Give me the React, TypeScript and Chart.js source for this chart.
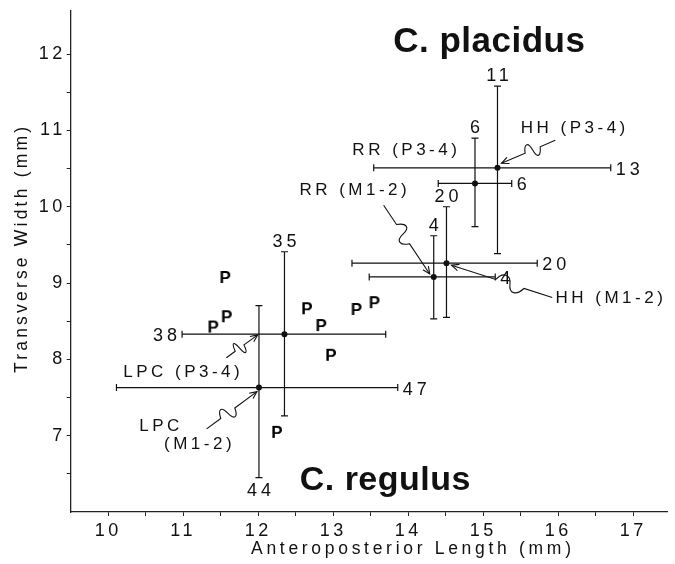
import React, { useEffect, useRef } from 'react';
import { Chart, registerables } from 'chart.js';

Chart.register(...registerables);

// ---------- data ----------
const groupNames = ['HH (P3-4)', 'RR (P3-4)', 'HH (M1-2)', 'RR (M1-2)', 'LPC (P3-4)', 'LPC (M1-2)'];
const meanLength = [15.19, 14.89, 14.51, 14.34, 12.35, 12.01];
const meanWidth = [10.51, 10.305, 9.26, 9.08, 8.33, 7.63];
const lengthMin = [13.54, 14.4, 13.25, 13.48, 10.985, 10.11];
const lengthMax = [16.7, 15.38, 15.72, 15.16, 13.7, 13.86];
const widthMin = [9.385, 9.74, 8.55, 8.53, 7.26, 6.45];
const widthMax = [11.58, 10.9, 10.0, 9.62, 9.41, 8.705];
const lengthN = ['13', '6', '20', '4', '38', '47'];
const widthN = ['11', '6', '20', '4', '35', '44'];

const specimenLength = [11.56, 11.4, 11.58, 12.65, 12.84, 13.31, 13.55, 12.97, 12.25];
const specimenWidth = [9.08, 8.43, 8.565, 8.67, 8.45, 8.66, 8.75, 8.06, 7.05];

const xTicks = [10, 10.5, 11, 11.5, 12, 12.5, 13, 13.5, 14, 14.5, 15, 15.5, 16, 16.5, 17];
const xTickLabels = ['10', '', '11', '', '12', '', '13', '', '14', '', '15', '', '16', '', '17'];
const yTicks = [6.5, 7, 7.5, 8, 8.5, 9, 9.5, 10, 10.5, 11, 11.5, 12];
const yTickLabels = ['', '7', '', '8', '', '9', '', '10', '', '11', '', '12'];

const xTitle = 'Anteroposterior Length (mm)';
const yTitle = 'Transverse Width (mm)';
const speciesNames = ['C. placidus', 'C. regulus'];

// ---------- layout / style ----------
const FONT = '"Liberation Sans", Arial, Helvetica, sans-serif';
const INK = '#111';
const lengthLabelSide = ['right', 'right', 'right', 'right', 'left', 'right'];
const widthLabelSide = ['top', 'top', 'top', 'top', 'top', 'bottom'];
// annotation text placement in data units, arrow start in data units, arrow tip as pixel offset from the group mean
const annotationLayout = [
  { group: 0, lines: [[15.5, 11.03]], align: 'left', from: [15.96, 10.87], tip: [4, -4.5] },
  { group: 1, lines: [[13.255, 10.74]], align: 'left', from: null, tip: null },
  { group: 2, lines: [[15.963, 8.8]], align: 'left', from: [15.92, 8.81], tip: [5, 2] },
  { group: 3, lines: [[13.98, 10.217]], align: 'right', from: [13.672, 10.02], tip: [-4, -3] },
  { group: 4, lines: [[10.2, 7.825]], align: 'left', from: [11.576, 8.022], tip: [-26.7, 0.7] },
  { group: 5, lines: [[10.413, 7.129], [10.744, 6.893]], align: 'left', from: [11.312, 7.089], tip: [-2, 4] },
];
const speciesLayout = [
  { at: [13.8, 12.03], size: 35 },
  { at: [12.553, 6.288], size: 34 },
];

function drawText(ctx: CanvasRenderingContext2D, str: string, x: number, y: number, font: string, spacing: number, align: string, baseline: CanvasTextBaseline) {
  ctx.font = font;
  (ctx as any).letterSpacing = spacing + 'px';
  ctx.textAlign = 'left';
  ctx.textBaseline = baseline;
  const w = ctx.measureText(str).width - spacing;
  let sx = x;
  if (align === 'center') sx = x - w / 2;
  else if (align === 'right') sx = x - w;
  ctx.fillText(str, sx, y);
}

function drawSquiggle(ctx: CanvasRenderingContext2D, x0: number, y0: number, x1: number, y1: number) {
  const dx = x1 - x0, dy = y1 - y0;
  const L = Math.hypot(dx, dy);
  const ux = dx / L, uy = dy / L;
  const nx = -uy, ny = ux;
  const P = (t: number, n: number): [number, number] => [x0 + ux * L * t + nx * n, y0 + uy * L * t + ny * n];
  ctx.beginPath();
  ctx.moveTo(x0, y0);
  ctx.lineTo(...P(0.28, 0));
  let c1 = P(0.33, -9), c2 = P(0.4, -10), e = P(0.42, 0);
  ctx.bezierCurveTo(c1[0], c1[1], c2[0], c2[1], e[0], e[1]);
  c1 = P(0.44, 10); c2 = P(0.52, 9); e = P(0.56, 0);
  ctx.bezierCurveTo(c1[0], c1[1], c2[0], c2[1], e[0], e[1]);
  ctx.lineTo(x1, y1);
  ctx.stroke();
  const ah = 8, ang = 0.42;
  const bx = -ux, by = -uy;
  ctx.beginPath();
  ctx.moveTo(x1 + ah * (bx * Math.cos(ang) - by * Math.sin(ang)), y1 + ah * (bx * Math.sin(ang) + by * Math.cos(ang)));
  ctx.lineTo(x1, y1);
  ctx.lineTo(x1 + ah * (bx * Math.cos(-ang) - by * Math.sin(-ang)), y1 + ah * (bx * Math.sin(-ang) + by * Math.cos(-ang)));
  ctx.stroke();
}

function makePMarker(): HTMLCanvasElement {
  const c = document.createElement('canvas');
  c.width = 14;
  c.height = 18;
  const g = c.getContext('2d')!;
  g.font = `bold 17px ${FONT}`;
  g.fillStyle = '#000';
  g.textAlign = 'center';
  g.textBaseline = 'middle';
  g.fillText('P', 7, 10);
  return c;
}

const errorBarsPlugin = {
  id: 'errorBars',
  beforeDraw(chart: any) {
    chart.ctx.letterSpacing = '3.5px';
  },
  beforeDatasetsDraw(chart: any) {
    const { ctx } = chart;
    const x = chart.scales.x, y = chart.scales.y;
    ctx.save();
    ctx.strokeStyle = INK;
    ctx.lineWidth = 1.2;
    const cap = 3.5;
    meanLength.forEach((_, i) => {
      const cx = x.getPixelForValue(meanLength[i]);
      const cy = y.getPixelForValue(meanWidth[i]);
      const xl = x.getPixelForValue(lengthMin[i]);
      const xr = x.getPixelForValue(lengthMax[i]);
      const yt = y.getPixelForValue(widthMax[i]);
      const yb = y.getPixelForValue(widthMin[i]);
      ctx.beginPath();
      ctx.moveTo(xl, cy); ctx.lineTo(xr, cy);
      ctx.moveTo(xl, cy - cap); ctx.lineTo(xl, cy + cap);
      ctx.moveTo(xr, cy - cap); ctx.lineTo(xr, cy + cap);
      ctx.moveTo(cx, yt); ctx.lineTo(cx, yb);
      ctx.moveTo(cx - cap, yt); ctx.lineTo(cx + cap, yt);
      ctx.moveTo(cx - cap, yb); ctx.lineTo(cx + cap, yb);
      ctx.stroke();
    });
    ctx.restore();
  },
  afterDraw(chart: any) {
    const { ctx } = chart;
    const x = chart.scales.x, y = chart.scales.y;
    ctx.save();
    ctx.fillStyle = INK;
    ctx.strokeStyle = INK;
    ctx.lineWidth = 1.1;
    const numFont = `18px ${FONT}`;
    meanLength.forEach((_, i) => {
      const cx = x.getPixelForValue(meanLength[i]);
      const cy = y.getPixelForValue(meanWidth[i]);
      const xl = x.getPixelForValue(lengthMin[i]);
      const xr = x.getPixelForValue(lengthMax[i]);
      const yt = y.getPixelForValue(widthMax[i]);
      const yb = y.getPixelForValue(widthMin[i]);
      if (lengthLabelSide[i] === 'right') drawText(ctx, lengthN[i], xr + 5, cy + 2, numFont, 4, 'left', 'middle');
      else drawText(ctx, lengthN[i], xl - 5, cy + 2, numFont, 4, 'right', 'middle');
      if (widthLabelSide[i] === 'top') drawText(ctx, widthN[i], cx, yt - 10, numFont, 4, 'center', 'middle');
      else drawText(ctx, widthN[i], cx, yb + 13, numFont, 4, 'center', 'middle');
    });
    const labFont = `17px ${FONT}`;
    annotationLayout.forEach((a) => {
      const name = groupNames[a.group];
      const parts = a.lines.length > 1 ? name.split(' ') : [name];
      a.lines.forEach((p, k) => {
        drawText(ctx, parts[k], x.getPixelForValue(p[0]), y.getPixelForValue(p[1]), labFont, 3.5, a.align, 'middle');
      });
      if (a.from && a.tip) {
        const tx = x.getPixelForValue(meanLength[a.group]) + a.tip[0];
        const ty = y.getPixelForValue(meanWidth[a.group]) + a.tip[1];
        drawSquiggle(ctx, x.getPixelForValue(a.from[0]), y.getPixelForValue(a.from[1]), tx, ty);
      }
    });
    speciesLayout.forEach((s, i) => {
      drawText(ctx, speciesNames[i], x.getPixelForValue(s.at[0]), y.getPixelForValue(s.at[1]), `bold ${s.size}px ${FONT}`, 0.5, 'left', 'alphabetic');
    });
    // axis titles
    drawText(ctx, xTitle, 411, 549, `17.5px ${FONT}`, 3.7, 'center', 'middle');
    ctx.translate(22, 250);
    ctx.rotate(-Math.PI / 2);
    drawText(ctx, yTitle, 0, 0, `17.5px ${FONT}`, 3.2, 'center', 'middle');
    ctx.restore();
  },
};

export default function App() {
  const ref = useRef<HTMLCanvasElement | null>(null);
  useEffect(() => {
    if (!ref.current) return;
    const pMarker = makePMarker();
    const chart = new Chart(ref.current, {
      type: 'scatter',
      data: {
        datasets: [
          {
            label: 'Group means',
            data: meanLength.map((v, i) => ({ x: v, y: meanWidth[i] })),
            pointRadius: 3,
            pointBackgroundColor: INK,
            pointBorderColor: INK,
            pointBorderWidth: 0,
          },
          {
            label: 'P',
            data: specimenLength.map((v, i) => ({ x: v, y: specimenWidth[i] })),
            pointStyle: pMarker as any,
            pointRadius: 7,
          },
        ],
      },
      options: {
        animation: false,
        responsive: false,
        devicePixelRatio: 1,
        layout: { padding: { left: 0, top: 10.6, right: 2, bottom: 0 } },
        plugins: { legend: { display: false }, tooltip: { enabled: false } },
        scales: {
          x: {
            type: 'linear',
            min: 9.5,
            max: 17.45,
            afterBuildTicks: (s: any) => {
              s.ticks = xTicks.map((v) => ({ value: v }));
            },
            afterFit: (s: any) => {
              s.height = 52;
              s.paddingLeft = 0;
              s.paddingRight = 0;
            },
            ticks: {
              autoSkip: false,
              maxRotation: 0,
              minRotation: 0,
              padding: 4,
              color: INK,
              font: { family: FONT, size: 18 },
              callback: (_v: any, i: number) => xTickLabels[i],
            },
            grid: { drawOnChartArea: false, drawTicks: true, tickLength: 4, color: '#222', lineWidth: 1 },
            border: { display: true, color: '#222', width: 1.3 },
          },
          y: {
            type: 'linear',
            min: 6.0,
            max: 12.57,
            afterBuildTicks: (s: any) => {
              s.ticks = yTicks.map((v) => ({ value: v }));
            },
            afterFit: (s: any) => {
              s.width = 70.7;
              s.paddingTop = 0;
              s.paddingBottom = 0;
            },
            ticks: {
              autoSkip: false,
              padding: 1,
              color: INK,
              font: { family: FONT, size: 18 },
              callback: (_v: any, i: number) => yTickLabels[i],
            },
            grid: { drawOnChartArea: false, drawTicks: true, tickLength: 4, color: '#222', lineWidth: 1 },
            border: { display: true, color: '#222', width: 1.3 },
          },
        },
      },
      plugins: [errorBarsPlugin],
    });
    return () => chart.destroy();
  }, []);
  return (
    <div style={{ position: 'absolute', left: 0, top: 0, width: 675, height: 564, background: '#fff' }}>
      <canvas ref={ref} width={675} height={564} style={{ display: 'block' }} />
    </div>
  );
}
